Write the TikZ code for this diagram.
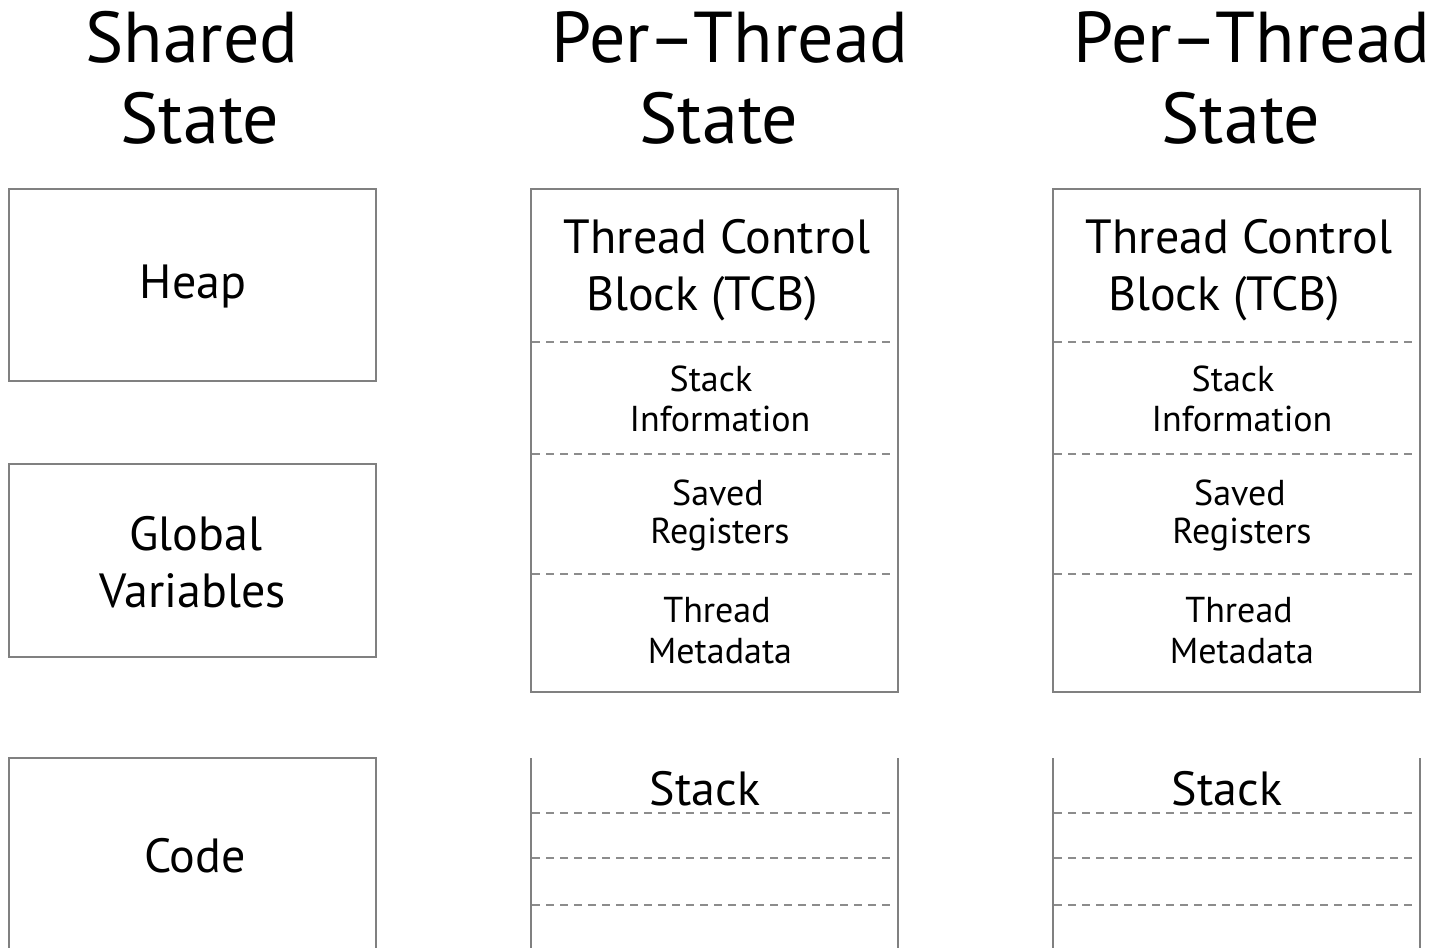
\documentclass[tikz,border=0pt]{standalone}
\usepackage{fontspec}
\setmainfont{PT Sans}
\begin{document}
\begin{tikzpicture}[x=1pt,y=-1pt,
  box/.style={draw=black!50, line width=1.6pt},
  wall/.style={draw=black!50, line width=1.6pt},
  sep/.style={draw=black!45, line width=1.1pt, dash pattern=on 8pt off 6pt},
  title/.style={anchor=base, inner sep=0pt, font=\fontsize{72}{80}\selectfont},
  big/.style={anchor=base, inner sep=0pt, font=\fontsize{48}{56}\selectfont},
  small/.style={anchor=base, inner sep=0pt, font=\fontsize{36}{42}\selectfont}]
\useasboundingbox (0,0) rectangle (1441,948);

% shared state column
\node[title] (sh1) at (192,62) {Shared};
\node[title] (sh2) at (200,143) {State};
\draw[box] (9,189) rectangle (376,381);
\node[big] (heap) at (193,298) {Heap};
\draw[box] (9,464) rectangle (376,657);
\node[big] (glob1) at (196,550) {Global};
\node[big] (glob2) at (193,607) {Variables};
\coordinate (cbl) at (9,948);
\coordinate (ctl) at (9,758);
\coordinate (ctr) at (376,758);
\coordinate (cbr) at (376,948);
\draw[box] (cbl) -- (ctl) -- (ctr) -- (cbr);
\node[big] (code) at (195,872) {Code};

% per-thread columns
\foreach \o/\n in {0/a,522/b}{
  \begin{scope}[xshift=\o]
    \node[title] (pt1\n) at (730,62) {Per\kern-2pt–\kern-2ptThread};
    \node[title] (pt2\n) at (719,143) {State};
    \draw[box] (531,189) rectangle (898,692);
    \node[big] (tcb1\n) at (717,253) {Thread Control};
    \node[big] (tcb2\n) at (702,310) {Block (TCB)};
    \foreach \y in {342,454,574}{
      \draw[sep] (532,\y) -- (891,\y);
    }
    \node[small] (si1\n) at (711,391) {Stack};
    \node[small] (si2\n) at (720,431) {Information};
    \node[small] (sr1\n) at (718,505) {Saved};
    \node[small] (sr2\n) at (720,543) {Registers};
    \node[small] (tm1\n) at (717,622) {Thread};
    \node[small] (tm2\n) at (720,663) {Metadata};
    % open-ended stack
    \coordinate (stl\n) at (531,758);
    \coordinate (sbl\n) at (531,948);
    \coordinate (str\n) at (898,758);
    \coordinate (sbr\n) at (898,948);
    \draw[wall] (stl\n) -- (sbl\n);
    \draw[wall] (str\n) -- (sbr\n);
    \foreach \y in {813,858,905}{
      \draw[sep] (532,\y) -- (891,\y);
    }
    \node[big] (stk\n) at (705,805) {Stack};
  \end{scope}
}
\end{tikzpicture}
\end{document}
